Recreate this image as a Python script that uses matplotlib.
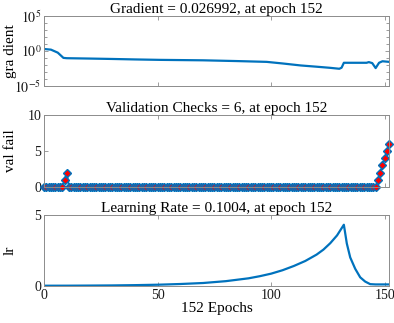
import numpy as np
import matplotlib
matplotlib.use('Agg')
import matplotlib.pyplot as plt
from matplotlib.ticker import LogLocator, NullFormatter

plt.rcParams['font.family'] = 'Liberation Serif'
plt.rcParams['mathtext.fontset'] = 'stix'

# gradient (epoch, value)
grad_epochs = [0, 3, 6, 8.5, 10, 20, 30, 40, 51, 70, 85, 98, 105, 113, 120, 126, 130,
               131, 132, 142, 143, 144.5, 146, 147.5, 149, 152]
grad_vals = [1.85, 1.5, 0.56, 0.1, 0.09, 0.08, 0.07, 0.06, 0.052, 0.045, 0.035, 0.027,
             0.016, 0.0083, 0.0055, 0.0038, 0.0028, 0.004, 0.02, 0.02, 0.025, 0.018,
             0.0035, 0.02, 0.033, 0.026992]

# validation failures per epoch
val_epochs = np.arange(153)
val_fail = [0] * 9 + [1, 2] + [0] * 136 + [1, 2, 3, 4, 5, 6]

# learning rate (epoch, value)
lr_epochs = [0, 10, 20, 30, 40, 50, 60, 70, 80, 90, 95, 100, 105, 110, 115, 120, 123,
             126, 129, 132, 133.3, 134.8, 137, 139.2, 141.4, 143.6, 146, 152]
lr_vals = [0.01, 0.012, 0.02, 0.03, 0.05, 0.08, 0.13, 0.2, 0.33, 0.53, 0.68, 0.86,
           1.1, 1.4, 1.75, 2.2, 2.55, 3.0, 3.55, 4.3, 2.98, 2.0, 1.2, 0.6, 0.3, 0.12,
           0.1, 0.1004]

blue = (0, 0.447, 0.741)
edge = '#8c8c8c'
xt = [0, 50, 100, 150]

fig = plt.figure(figsize=(3.94, 3.23), dpi=100)
ax1 = fig.add_axes([0.112, 0.734, 0.876, 0.217])
ax2 = fig.add_axes([0.112, 0.421, 0.876, 0.223])
ax3 = fig.add_axes([0.112, 0.115, 0.876, 0.22])

ax1.semilogy(grad_epochs, grad_vals, color=blue, lw=1.6)
ax1.set_ylim(1e-5, 1e5)
ax1.set_yticks([1e-5, 1e0, 1e5])
ax1.set_yticklabels(['$10^{-5}$', '$10^{0}$', '$10^{5}$'])
ax1.yaxis.set_minor_locator(LogLocator(base=10, subs=[1.0], numticks=20))
ax1.yaxis.set_minor_formatter(NullFormatter())
ax1.set_ylabel('gra dient')
ax1.set_title('Gradient = 0.026992, at epoch 152', pad=2)

ax2.plot(val_epochs, val_fail, color=blue, lw=1.2, marker='D', ms=4,
         mfc='red', mec=blue, mew=1.0, clip_on=False)
ax2.set_ylim(0, 10)
ax2.set_yticks([0, 5, 10])
ax2.set_ylabel('val fail')
ax2.set_title('Validation Checks = 6, at epoch 152', pad=2)

ax3.plot(lr_epochs, lr_vals, color=blue, lw=1.6)
ax3.set_ylim(0, 5)
ax3.set_yticks([0, 5])
ax3.set_ylabel('lr')
ax3.set_title('Learning Rate = 0.1004, at epoch 152', pad=2)
ax3.set_xlabel('152 Epochs', labelpad=0)

for ax in (ax1, ax2, ax3):
    ax.set_xlim(0, 152)
    ax.set_xticks(xt)
    ax.tick_params(which='both', direction='in', length=3, width=0.6, labelsize=10,
                   top=True, right=True, pad=2, color=edge, labelcolor='#1a1a1a')
    for s in ax.spines.values():
        s.set_color(edge)
        s.set_linewidth(0.7)
    ax.title.set_fontsize(11)
    ax.yaxis.label.set_fontsize(11)
    ax.yaxis.set_label_coords(-0.08, 0.5)
ax1.tick_params(which='minor', length=2)
ax1.set_xticklabels([])
ax2.set_xticklabels([])
ax3.xaxis.label.set_fontsize(11)

fig.savefig('out.png', dpi=100)
